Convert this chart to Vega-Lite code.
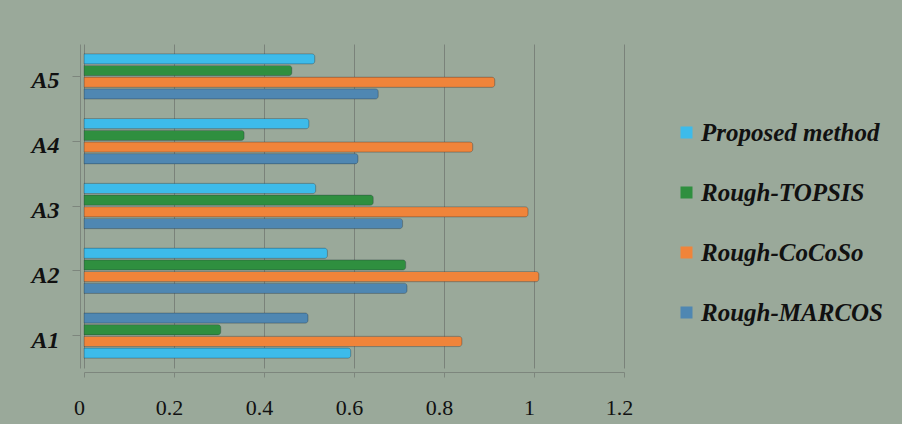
{
  "$schema": "https://vega.github.io/schema/vega-lite/v6.json",
  "width": 540,
  "height": 324,
  "autosize": {"type": "none"},
  "padding": {"left": 84, "top": 44, "right": 278, "bottom": 56},
  "background": "#9aa99a",
  "data": {
    "values": [
      {"alt": "A5", "series": "Proposed method", "slot": 1, "value": 0.513},
      {"alt": "A5", "series": "Rough-TOPSIS", "slot": 2, "value": 0.462},
      {"alt": "A5", "series": "Rough-CoCoSo", "slot": 3, "value": 0.913},
      {"alt": "A5", "series": "Rough-MARCOS", "slot": 4, "value": 0.654},
      {"alt": "A4", "series": "Proposed method", "slot": 1, "value": 0.500},
      {"alt": "A4", "series": "Rough-TOPSIS", "slot": 2, "value": 0.356},
      {"alt": "A4", "series": "Rough-CoCoSo", "slot": 3, "value": 0.864},
      {"alt": "A4", "series": "Rough-MARCOS", "slot": 4, "value": 0.609},
      {"alt": "A3", "series": "Proposed method", "slot": 1, "value": 0.515},
      {"alt": "A3", "series": "Rough-TOPSIS", "slot": 2, "value": 0.643},
      {"alt": "A3", "series": "Rough-CoCoSo", "slot": 3, "value": 0.987},
      {"alt": "A3", "series": "Rough-MARCOS", "slot": 4, "value": 0.708},
      {"alt": "A2", "series": "Proposed method", "slot": 1, "value": 0.541},
      {"alt": "A2", "series": "Rough-TOPSIS", "slot": 2, "value": 0.715},
      {"alt": "A2", "series": "Rough-CoCoSo", "slot": 3, "value": 1.011},
      {"alt": "A2", "series": "Rough-MARCOS", "slot": 4, "value": 0.718},
      {"alt": "A1", "series": "Rough-MARCOS", "slot": 1, "value": 0.498},
      {"alt": "A1", "series": "Rough-TOPSIS", "slot": 2, "value": 0.304},
      {"alt": "A1", "series": "Rough-CoCoSo", "slot": 3, "value": 0.840},
      {"alt": "A1", "series": "Proposed method", "slot": 4, "value": 0.593}
    ]
  },
  "mark": {"type": "bar", "cornerRadiusEnd": 3, "stroke": "#2a3a40", "strokeOpacity": 0.35, "strokeWidth": 0.8},
  "encoding": {
    "y": {
      "field": "alt",
      "type": "nominal",
      "sort": ["A5", "A4", "A3", "A2", "A1"],
      "scale": {"paddingInner": 0.3, "paddingOuter": 0.15},
      "axis": {
        "title": null,
        "offset": 4,
        "tickSize": 8,
        "tickColor": "#7d867d",
        "domainColor": "#7d867d",
        "labelPadding": 13,
        "labelOffset": 5,
        "labelFont": "Liberation Serif",
        "labelFontSize": 24,
        "labelFontWeight": "bold",
        "labelFontStyle": "italic",
        "labelColor": "#111111"
      }
    },
    "yOffset": {
      "field": "slot",
      "type": "ordinal",
      "scale": {"paddingInner": 0.12}
    },
    "x": {
      "field": "value",
      "type": "quantitative",
      "scale": {"domain": [0, 1.2], "nice": false},
      "axis": {
        "title": null,
        "values": [0, 0.2, 0.4, 0.6, 0.8, 1, 1.2],
        "format": "~g",
        "offset": 4,
        "tickSize": 5,
        "tickColor": "#7d867d",
        "domainColor": "#7d867d",
        "grid": true,
        "gridColor": "#7a827a",
        "gridWidth": 1,
        "labelPadding": 20,
        "labelOffset": -5,
        "labelFont": "Liberation Serif",
        "labelFontSize": 22,
        "labelColor": "#111111",
        "labelFlush": false
      }
    },
    "color": {
      "field": "series",
      "type": "nominal",
      "scale": {
        "domain": ["Proposed method", "Rough-TOPSIS", "Rough-CoCoSo", "Rough-MARCOS"],
        "range": ["#3dbbea", "#2f8f3f", "#f0843a", "#4f87b2"]
      },
      "legend": {
        "title": null,
        "orient": "none",
        "legendX": 590,
        "legendY": 76,
        "symbolType": "square",
        "symbolSize": 144,
        "symbolStrokeWidth": 0,
        "rowPadding": 34,
        "labelOffset": 2,
        "labelFont": "Liberation Serif",
        "labelFontSize": 25,
        "labelFontWeight": "bold",
        "labelFontStyle": "italic",
        "labelColor": "#111111",
        "labelLimit": 300
      }
    }
  },
  "config": {
    "view": {"stroke": null}
  }
}
